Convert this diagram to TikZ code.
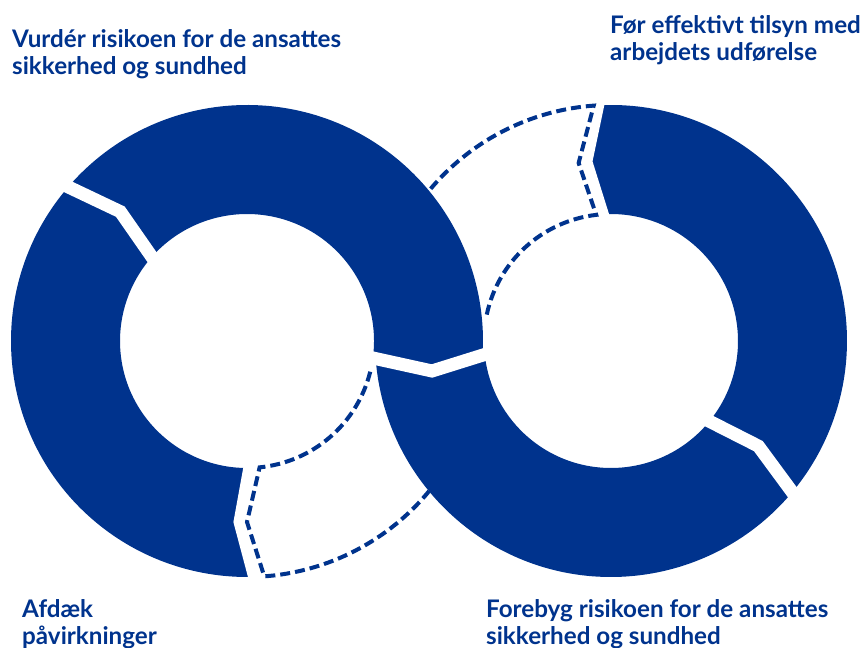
\documentclass[tikz,border=0pt]{standalone}
\usepackage{fontspec}
\setmainfont{Lato}
\usetikzlibrary{calc}
\definecolor{navy}{RGB}{0,51,141}

\begin{document}
\begin{tikzpicture}[x=1pt, y=1pt,
  band/.style={fill=navy},
  cut/.style={draw=white, line width=13pt},
  trail/.style={draw=navy, line width=4pt, dash pattern=on 10pt off 5pt},
  caption/.style={anchor=north west, inner sep=0pt, align=left, text=navy,
    font=\bfseries\fontsize{24.2}{27}\selectfont}]

\useasboundingbox (0,0) rectangle (863,648);

\coordinate (l) at (247,307);
\coordinate (r) at (611,307);
\coordinate (v) at (432,277);

% left ring
\fill[band] ($(l)+(140:236)$) arc[start angle=140, end angle=-3.6, radius=236] -- (v)
  -- ($(l)+(-7.7:127)$) arc[start angle=-7.7, end angle=140, radius=127] -- ($(l)+(134.4:181)$) -- cycle;
\fill[band] ($(l)+(140:236)$) arc[start angle=140, end angle=272.5, radius=236] -- ($(l)+(267.8:181)$)
  -- ($(l)+(272.5:127)$) arc[start angle=272.5, end angle=140, radius=127] -- ($(l)+(134.4:181)$) -- cycle;

% right ring
\fill[band] ($(r)+(92.5:236)$) arc[start angle=92.5, end angle=-40.5, radius=236] -- ($(r)+(-35.5:181)$)
  -- ($(r)+(-40.5:127)$) arc[start angle=-40.5, end angle=92.5, radius=127] -- ($(r)+(98:181)$) -- cycle;
\fill[band] ($(r)+(184.1:236)$) arc[start angle=184.1, end angle=319.5, radius=236] -- ($(r)+(324.5:181)$)
  -- ($(r)+(319.5:127)$) arc[start angle=319.5, end angle=186.8, radius=127] -- (v) -- cycle;

% gaps
\draw[cut] ($(l)+(140:248)$) -- ($(l)+(134.4:181)$) -- ($(l)+(140:115)$);
\draw[cut] ($(l)+(272.5:248)$) -- ($(l)+(267.8:181)$) -- ($(l)+(272.5:115)$);
\draw[cut] ($(r)+(-40.5:248)$) -- ($(r)+(-35.5:181)$) -- ($(r)+(-40.5:115)$);
\draw[cut] ($(r)+(92.5:248)$) -- ($(r)+(98:181)$) -- ($(r)+(92.5:115)$);
\draw[cut] (365.2,291.7) -- (v) -- (487.6,294.4);

% open parts
\draw[trail] ($(l)+(346:127)$) arc[start angle=346, end angle=275.7, radius=127] -- ($(l)+(270:181)$)
  -- ($(l)+(274.2:236)$) arc[start angle=274.2, end angle=320.5, radius=236];
\draw[trail] ($(r)+(168:127)$) arc[start angle=168, end angle=96.7, radius=127] -- ($(r)+(100.3:181)$)
  -- ($(r)+(94.2:236)$) arc[start angle=94.2, end angle=140.5, radius=236];

% captions
\node[caption] (vurder) at (12,619) {Vurdér risikoen for de ansattes\\sikkerhed og sundhed};
\node[caption] (tilsyn) at (610,633) {Før effektivt tilsyn med\\arbejdets udførelse};
\node[caption] (afdaek) at (22,49) {Afdæk\\påvirkninger};
\node[caption] (forebyg) at (486,49) {Forebyg risikoen for de ansattes\\sikkerhed og sundhed};

\end{tikzpicture}
\end{document}
